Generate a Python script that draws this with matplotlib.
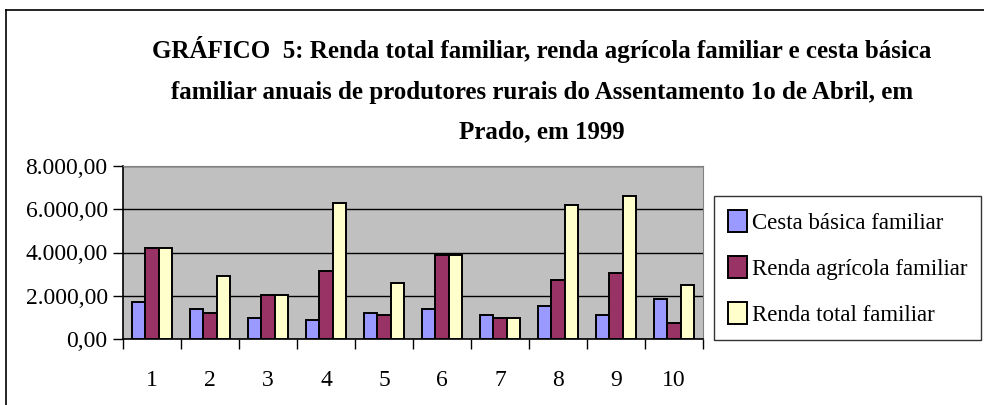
import matplotlib.pyplot as plt
import numpy as np
from matplotlib.lines import Line2D
from matplotlib.ticker import FuncFormatter

# data
produtores = [1, 2, 3, 4, 5, 6, 7, 8, 9, 10]
cesta_basica = [1730, 1405, 975, 865, 1190, 1405, 1100, 1530, 1100, 1840]
renda_agricola = [4220, 1190, 2055, 3155, 1100, 3895, 960, 2720, 3030, 760]
renda_total = [4220, 2935, 2055, 6310, 2610, 3895, 960, 6200, 6630, 2500]
series_names = ['Cesta básica familiar', 'Renda agrícola familiar', 'Renda total familiar']
y_ticks = [0, 2000, 4000, 6000, 8000]

title = ('GRÁFICO  5: Renda total familiar, renda agrícola familiar e cesta básica\n'
         'familiar anuais de produtores rurais do Assentamento 1o de Abril, em\n'
         'Prado, em 1999')

plt.rcParams['font.family'] = ['Liberation Serif', 'DejaVu Serif']

fig = plt.figure(figsize=(9.84, 4.05), dpi=100)
ax = fig.add_axes([123 / 984, 1 - 339 / 405, 580 / 984, 173 / 405])
ax.set_facecolor('#C0C0C0')

x = np.arange(len(produtores)) + 1
w = 0.225
colors = ['#9999FF', '#993366', '#FFFFCC']
for k, (vals, c, name) in enumerate(zip([cesta_basica, renda_agricola, renda_total], colors, series_names)):
    ax.bar(x + (k - 1) * w, vals, width=w, color=c, edgecolor='black',
           linewidth=1.4, label=name, zorder=3)

ax.set_ylim(0, 8000)
ax.set_xlim(0.5, len(produtores) + 0.5)
ax.set_yticks(y_ticks)
ax.yaxis.set_major_formatter(FuncFormatter(
    lambda v, p: f'{v:,.2f}'.replace(',', 'X').replace('.', ',').replace('X', '.')))
ax.grid(axis='y', color='black', linewidth=1, zorder=1)

# tick marks at group boundaries, labels at group centres
ax.set_xticks(np.arange(0.5, len(produtores) + 1, 1))
ax.set_xticklabels([])
ax.set_xticks(x, minor=True)
ax.set_xticklabels([str(p) for p in produtores], minor=True)
ax.tick_params(axis='x', which='major', length=7, width=1, direction='out')
ax.tick_params(axis='x', which='minor', length=0, pad=22, labelsize=17)
ax.tick_params(axis='y', length=7, width=1, direction='out', labelsize=17, pad=4)

for s in ['top', 'right']:
    ax.spines[s].set_color('#808080')
for s in ['left', 'bottom']:
    ax.spines[s].set_color('black')
    ax.spines[s].set_linewidth(1.2)

fig.text(0.551, 1 - 90 / 405, title, ha='center', va='center',
         fontsize=18, fontweight='bold', linespacing=1.95)

leg = fig.legend(loc='upper left', bbox_to_anchor=(714 / 984, 1 - 196 / 405),
                 prop={'size': 16.5}, frameon=True, fancybox=False,
                 edgecolor='black', handlelength=0.85, handleheight=1.1,
                 handletextpad=0.2, labelspacing=0.98, borderpad=0.6,
                 borderaxespad=0)
leg.get_frame().set_linewidth(1)

# outer chart border (cut off on the right and bottom)
fig.add_artist(Line2D([6 / 984, 6 / 984], [0, 1 - 10 / 405], color='black',
                      linewidth=1.2, transform=fig.transFigure))
fig.add_artist(Line2D([6 / 984, 1], [1 - 10 / 405, 1 - 10 / 405], color='black',
                      linewidth=1.2, transform=fig.transFigure))

fig.savefig('out.png', dpi=100)
